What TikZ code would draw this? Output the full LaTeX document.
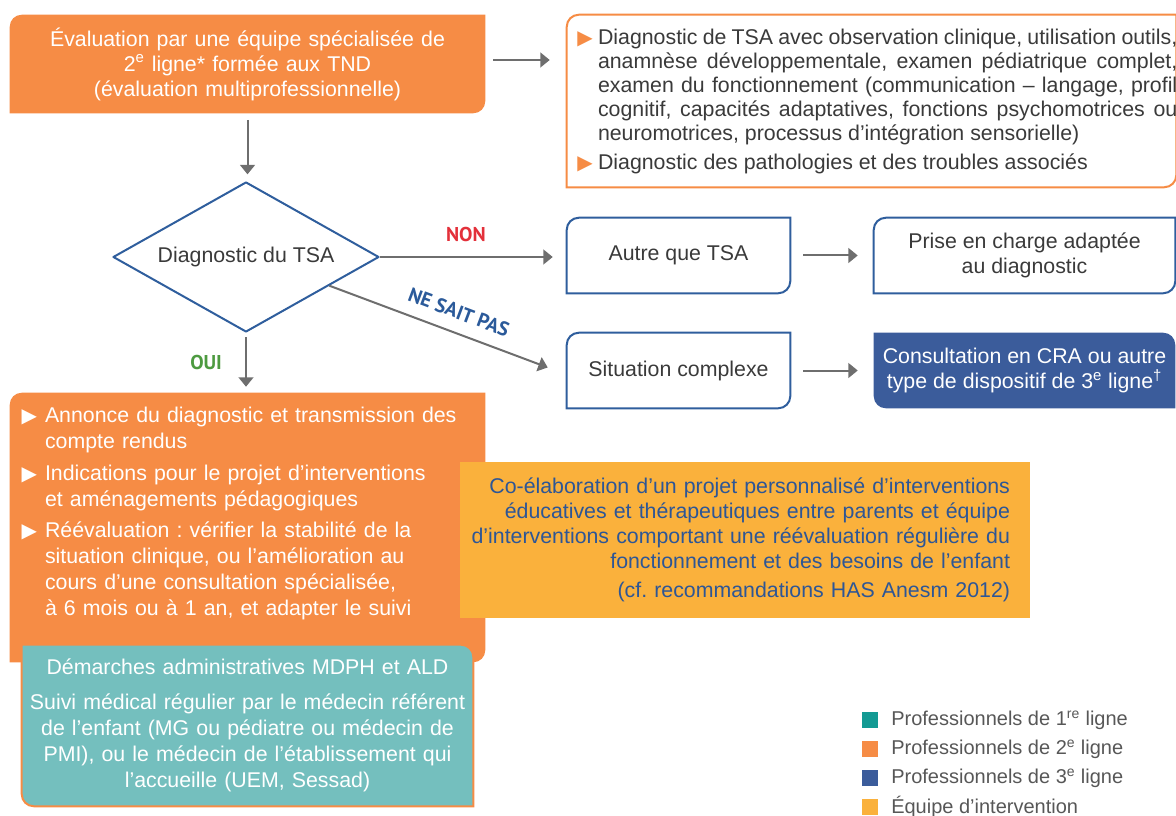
\documentclass[tikz,border=0pt]{standalone}
\usepackage{fontspec}
\setmainfont{Liberation Sans}
\newfontfamily\labfont{PT Sans}
\newfontfamily\trifont{DejaVu Sans}
\usetikzlibrary{arrows.meta,shapes.geometric,backgrounds,calc,positioning}
\definecolor{orng}{HTML}{F68C45}
\definecolor{tealbox}{HTML}{74BFBE}
\definecolor{tealleg}{HTML}{139A93}
\definecolor{blueln}{HTML}{2F5E9D}
\definecolor{blbox}{HTML}{3B5C9B}
\definecolor{yel}{HTML}{FAB13C}
\definecolor{ytxt}{HTML}{2D5696}
\definecolor{arrgray}{HTML}{6E6E6E}
\definecolor{txt}{HTML}{3A3A3A}
\definecolor{nonred}{HTML}{E3303A}
\definecolor{ouigreen}{HTML}{4D9A40}
\definecolor{nspblue}{HTML}{2B5A9A}
\tikzset{
  arr/.style={draw=arrgray,line width=1.5pt,-{Triangle[length=7pt,width=11pt]}},
  box/.style={inner sep=0pt,text=txt,font=\fontsize{16pt}{18.75pt}\selectfont},
  lab/.style={font=\labfont\bfseries\fontsize{15pt}{15pt}\selectfont},
  legtxt/.style={inner sep=0pt,text=txt!85,font=\fontsize{15pt}{15pt}\selectfont},
  bord/.style={line width=1.5pt},
}
\newcommand\bul[1]{{\trifont\fontsize{15pt}{15pt}\selectfont\textcolor{#1}{▶}}}
\newcommand\tlbr[1]{(#1.south west) -- ([yshift=-9pt]#1.north west) arc[start angle=180,end angle=90,radius=9pt] -- (#1.north east) -- ([yshift=9pt]#1.south east) arc[start angle=0,end angle=-90,radius=9pt] -- cycle}
\newcommand\trbl[1]{(#1.north west) -- ([xshift=-9pt]#1.north east) arc[start angle=90,end angle=0,radius=9pt] -- (#1.south east) -- ([xshift=9pt]#1.south west) arc[start angle=270,end angle=180,radius=9pt] -- cycle}
\frenchspacing
\begin{document}
\begin{tikzpicture}[x=0.75pt,y=-0.75pt,line join=round]
\useasboundingbox (0,0) rectangle (1176,816);
\node[box,text=white,minimum width=356.25pt,minimum height=73.5pt,text width=356.25pt,align=center] (top) at (247.5,64) {Évaluation par une équipe spécialisée de\\2\textsuperscript{e} ligne* formée aux TND\\(évaluation multiprofessionnelle)};
\node[box,minimum width=456.75pt,minimum height=129pt,text width=456.75pt,align=justify,font=\fontsize{16pt}{18pt}\selectfont] (diag) at (871.5,101) {\leftskip=23.25pt\rightskip=-1pt\noindent\llap{\bul{orng}\hspace{4pt}}Diagnostic de TSA avec observation clinique, utilisation outils,\linebreak anamnèse développementale, examen pédiatrique complet,\linebreak examen du fonctionnement (communication – langage, profil\linebreak cognitif, capacités adaptatives, fonctions psychomotrices ou\linebreak neuromotrices, processus d’intégration sensorielle)\par\vspace{3.75pt}\noindent\llap{\bul{orng}\hspace{4pt}}Diagnostic des pathologies et des troubles associés\par};
\node[box,shape=diamond,aspect=2,draw=blueln,bord,fill=white,minimum width=199.5pt,minimum height=112.5pt] (dia) at (246,257) {Diagnostic du TSA};
\node[box,minimum width=167.25pt,minimum height=56.25pt] (autre) at (678.5,255.5) {Autre que TSA};
\node[box,minimum width=225.75pt,minimum height=56.25pt,align=center] (prise) at (1024.5,255.5) {Prise en charge adaptée\\au diagnostic};
\node[box,minimum width=167.25pt,minimum height=56.25pt] (situ) at (678.5,370.5) {Situation complexe};
\node[box,text=white,minimum width=225.75pt,minimum height=56.25pt,align=center] (cra) at (1024.5,370.5) {Consultation en CRA ou autre\\type de dispositif de 3\textsuperscript{e} ligne\textsuperscript{†}};
\node[box,text=white,minimum width=356.25pt,minimum height=201.75pt,text width=356.25pt,align=left,font=\fontsize{16pt}{19.5pt}\selectfont] (annonce) at (247.5,527.5) {\leftskip=26.25pt\noindent\llap{\bul{white}\hspace{6pt}}Annonce du diagnostic et transmission des\\compte rendus\par\vspace{4pt}\noindent\llap{\bul{white}\hspace{6pt}}Indications pour le projet d’interventions\\et aménagements pédagogiques\par\vspace{4pt}\noindent\llap{\bul{white}\hspace{6pt}}Réévaluation : vérifier la stabilité de la\\situation clinique, ou l’amélioration au\\cours d’une consultation spécialisée,\\à 6 mois ou à 1 an, et adapter le suivi\par\vspace{21pt}};
\node[box,text=ytxt,minimum width=427.5pt,minimum height=117pt,text width=427.5pt,align=right] (coel) at (745,540) {\rightskip=15pt Co-élaboration d’un projet personnalisé d’interventions\\éducatives et thérapeutiques entre parents et équipe\\d’interventions comportant une réévaluation régulière du\\fonctionnement et des besoins de l’enfant\\[3pt](cf. recommandations HAS Anesm 2012)\par};
\node[box,text=white,minimum width=338.25pt,minimum height=120.75pt,text width=338.25pt,align=center,font=\fontsize{16pt}{19.5pt}\selectfont] (suivi) at (247.5,725.5) {Démarches administratives MDPH et ALD\\[6.75pt]Suivi médical régulier par le médecin référent\\de l’enfant (MG ou pédiatre ou médecin de\\PMI), ou le médecin de l’établissement qui\\l’accueille (UEM, Sessad)};
\begin{scope}[on background layer]
\fill[orng] \tlbr{top};
\filldraw[fill=white,draw=orng,bord] \tlbr{diag};
\draw[blueln,bord] \tlbr{autre};
\draw[blueln,bord] \tlbr{prise};
\draw[blueln,bord] \tlbr{situ};
\fill[blbox] \trbl{cra};
\fill[orng] \tlbr{annonce};
\filldraw[fill=tealbox,draw=orng,bord] \trbl{suivi};
\fill[yel] (coel.south west) rectangle (coel.north east);
\end{scope}
\draw[arr] ($(top.east)+(8,-4)$) -- ($(top.east -| diag.west)+(-17,-4)$);
\draw[arr,shorten <=5pt,shorten >=5pt] (top.south) -- (top.south |- dia.north);
\draw[arr,shorten >=10.5pt] (dia.east) -- (dia.east -| autre.west) node[lab,text=nonred,pos=0.46,yshift=17pt] (non) {NON};
\draw[arr] (dia.-19) -- ($(situ.west)+(-19,-3)$) node[lab,text=nspblue,pos=0.56,sloped,above=6pt] (nsp) {NE SAIT PAS};
\draw[arr,shorten <=3pt,shorten >=4.5pt] (dia.south) -- (dia.south |- annonce.north) node[lab,text=ouigreen,midway,left=14pt] (oui) {OUI};
\draw[arr,shorten <=9.75pt,shorten >=12pt] (autre) -- (prise);
\draw[arr,shorten <=9.75pt,shorten >=12pt] (situ) -- (cra);
\foreach \col/\txt [count=\i from 0] in {tealleg/{Professionnels de 1\textsuperscript{re} ligne},orng/{Professionnels de 2\textsuperscript{e} ligne},blbox/{Professionnels de 3\textsuperscript{e} ligne},yel/{Équipe d’intervention}}{
  \fill[\col] (862,712+29*\i) rectangle ++(16,16);
  \node[legtxt,anchor=west] (leg\i) at (891,720+29*\i) {\txt};
}
\end{tikzpicture}
\end{document}
